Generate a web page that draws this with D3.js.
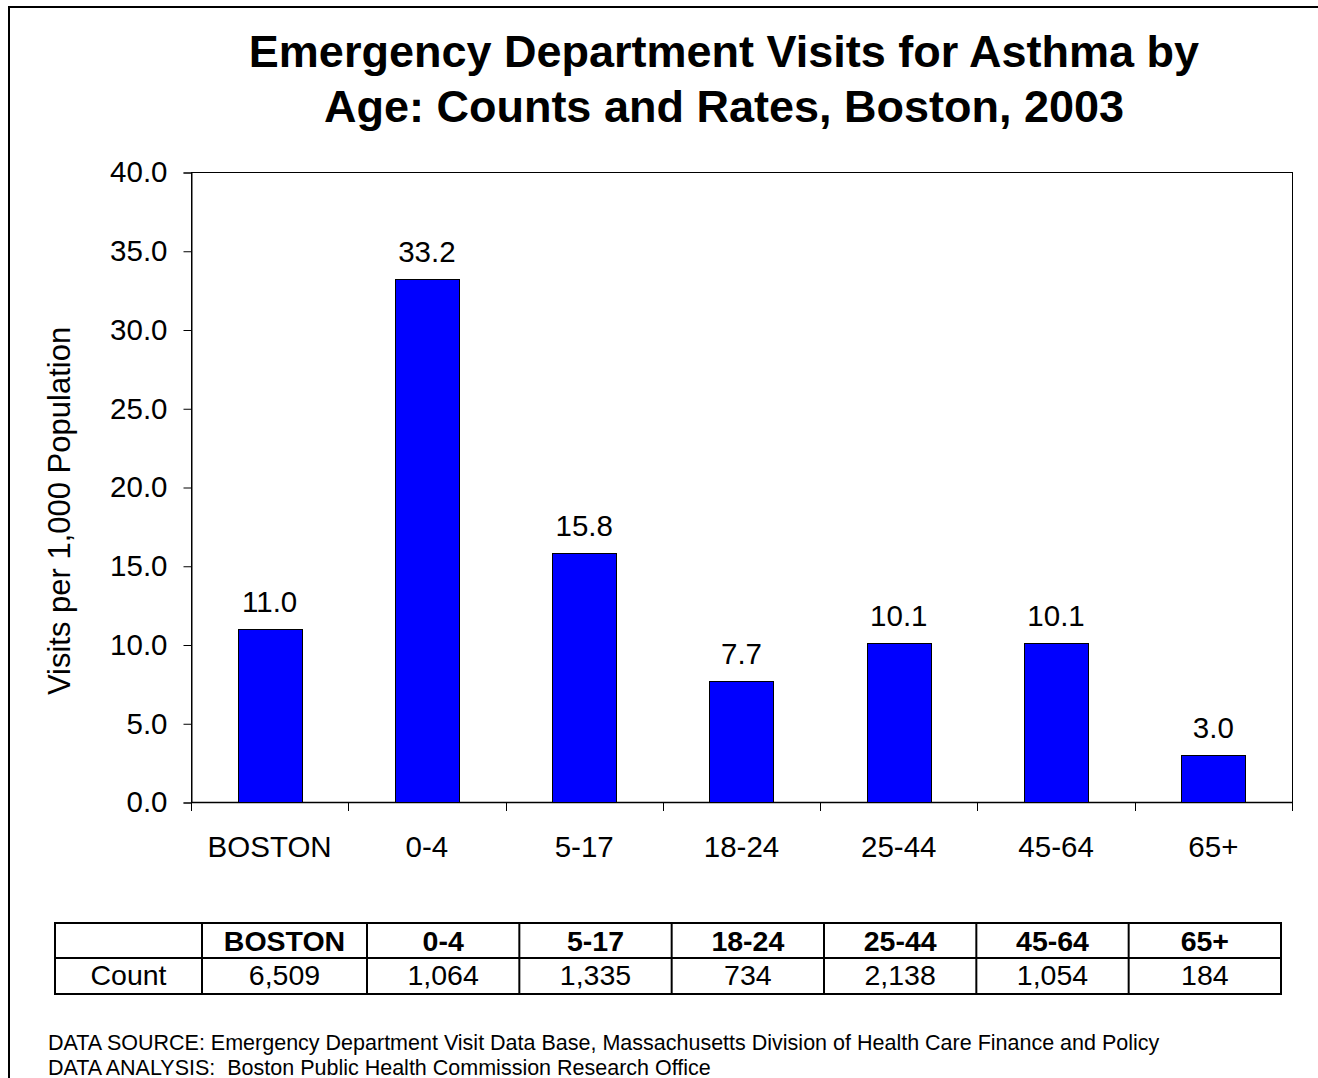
<!DOCTYPE html>
<html>
<head>
<meta charset="utf-8">
<script src="https://cdn.jsdelivr.net/npm/d3@7"></script>
<style>
  html, body { margin: 0; padding: 0; background: #fff; }
  svg { display: block; font-family: Arial, "Liberation Sans", sans-serif; }
</style>
</head>
<body>
<svg id="chart" width="1318" height="1078"></svg>
<script>
// ---- data ----
const categories = ["BOSTON", "0-4", "5-17", "18-24", "25-44", "45-64", "65+"];
const rates = [11.0, 33.2, 15.8, 7.7, 10.1, 10.1, 3.0];
const counts = [6509, 1064, 1335, 734, 2138, 1054, 184];
const yTickValues = [0, 5, 10, 15, 20, 25, 30, 35, 40];
const titleLines = ["Emergency Department Visits for Asthma by", "Age: Counts and Rates, Boston, 2003"];
const yAxisTitle = "Visits per 1,000 Population";
const rowLabel = "Count";
const footerLines = [
  "DATA SOURCE: Emergency Department Visit Data Base, Massachusetts Division of Health Care Finance and Policy",
  "DATA ANALYSIS:  Boston Public Health Commission Research Office"
];

// ---- layout ----
const W = 1318, H = 1078;
const plot = { left: 191, right: 1292, top: 172, bottom: 802 };
const svg = d3.select("#chart");

// outer border (right/bottom edges fall outside the picture)
svg.append("rect")
  .attr("x", 9).attr("y", 7)
  .attr("width", W + 20).attr("height", H + 20)
  .attr("fill", "none").attr("stroke", "#000").attr("stroke-width", 2);

// title
svg.append("g").selectAll("text").data(titleLines).join("text")
  .attr("x", 724)
  .attr("y", (d, i) => 67 + i * 55)
  .attr("text-anchor", "middle")
  .attr("font-size", 45).attr("font-weight", "bold")
  .text(d => d);

// scales
const pad = 0.593;
const x = d3.scaleBand().domain(categories)
  .range([plot.left, plot.right])
  .paddingInner(pad).paddingOuter(pad / 2);
const y = d3.scaleLinear().domain([0, 40]).range([plot.bottom, plot.top]);

// plot frame
svg.append("rect")
  .attr("x", plot.left + 0.5).attr("y", plot.top + 0.5)
  .attr("width", plot.right - plot.left).attr("height", plot.bottom - plot.top)
  .attr("fill", "none").attr("stroke", "#000").attr("stroke-width", 1);

// y axis
const yAxis = d3.axisLeft(y).tickValues(yTickValues).tickFormat(d3.format(".1f"))
  .tickSize(8).tickPadding(16);
const gy = svg.append("g").attr("transform", `translate(${plot.left + 0.5},0.5)`).call(yAxis);
gy.select(".domain").attr("stroke", "#000");
gy.selectAll(".tick line").attr("stroke", "#000");
gy.selectAll(".tick text")
  .attr("font-size", 29.5).attr("font-family", "Arial, 'Liberation Sans', sans-serif")
  .attr("fill", "#000");

// x axis ticks at category boundaries
const step = x.step();
const boundaries = categories.map(c => x(c) + x.bandwidth() / 2 - step / 2).concat([plot.right]);
svg.append("g").selectAll("line").data(boundaries).join("line")
  .attr("x1", d => Math.round(d) + 0.5).attr("x2", d => Math.round(d) + 0.5)
  .attr("y1", plot.bottom).attr("y2", plot.bottom + 9)
  .attr("stroke", "#000").attr("stroke-width", 1);
svg.append("line")
  .attr("x1", plot.left).attr("x2", plot.right + 1)
  .attr("y1", plot.bottom + 0.5).attr("y2", plot.bottom + 0.5)
  .attr("stroke", "#000").attr("stroke-width", 1.5);

svg.append("g").selectAll("text").data(categories).join("text")
  .attr("x", d => x(d) + x.bandwidth() / 2)
  .attr("y", 857)
  .attr("text-anchor", "middle")
  .attr("font-size", 29.5)
  .text(d => d);

// bars
svg.append("g").selectAll("rect").data(rates).join("rect")
  .attr("x", (d, i) => Math.round(x(categories[i])) + 0.5)
  .attr("y", d => Math.round(y(d)) + 0.5)
  .attr("width", Math.round(x.bandwidth()))
  .attr("height", d => Math.round(y(0)) - Math.round(y(d)))
  .attr("fill", "#0000FF").attr("stroke", "#000").attr("stroke-width", 1);

// value labels
svg.append("g").selectAll("text").data(rates).join("text")
  .attr("x", (d, i) => x(categories[i]) + x.bandwidth() / 2)
  .attr("y", d => y(d) - 17)
  .attr("text-anchor", "middle")
  .attr("font-size", 29.5)
  .text(d => d3.format(".1f")(d));

// y-axis title
svg.append("text")
  .attr("transform", "translate(70,511) rotate(-90)")
  .attr("text-anchor", "middle")
  .attr("font-size", 31)
  .text(yAxisTitle);

// ---- count table ----
const table = { left: 55, top: 923, mid: 958, bottom: 994, labelW: 147, firstW: 165, right: 1281 };
const otherW = (table.right - table.left - table.labelW - table.firstW) / (categories.length - 1);
const colEdges = [table.left, table.left + table.labelW];
categories.forEach((c, i) => colEdges.push(colEdges[colEdges.length - 1] + (i === 0 ? table.firstW : otherW)));
const tg = svg.append("g");
tg.append("rect")
  .attr("x", table.left).attr("y", table.top)
  .attr("width", table.right - table.left).attr("height", table.bottom - table.top)
  .attr("fill", "none").attr("stroke", "#000").attr("stroke-width", 2);
tg.append("line")
  .attr("x1", table.left).attr("x2", table.right)
  .attr("y1", table.mid).attr("y2", table.mid)
  .attr("stroke", "#000").attr("stroke-width", 2);
tg.selectAll("line.col").data(colEdges.slice(1, -1)).join("line")
  .attr("class", "col")
  .attr("x1", d => d).attr("x2", d => d)
  .attr("y1", table.top).attr("y2", table.bottom)
  .attr("stroke", "#000").attr("stroke-width", 2);
const colCenter = i => (colEdges[i] + colEdges[i + 1]) / 2;
tg.selectAll("text.head").data(categories).join("text")
  .attr("class", "head")
  .attr("x", (d, i) => colCenter(i + 1))
  .attr("y", 951)
  .attr("text-anchor", "middle")
  .attr("font-size", 28.5).attr("font-weight", "bold")
  .text(d => d);
tg.append("text")
  .attr("x", colCenter(0)).attr("y", 985)
  .attr("text-anchor", "middle")
  .attr("font-size", 28.5)
  .text(rowLabel);
tg.selectAll("text.cnt").data(counts).join("text")
  .attr("class", "cnt")
  .attr("x", (d, i) => colCenter(i + 1))
  .attr("y", 985)
  .attr("text-anchor", "middle")
  .attr("font-size", 28.5)
  .text(d => d3.format(",")(d));

// footer
svg.append("g").selectAll("text").data(footerLines).join("text")
  .attr("x", 48)
  .attr("y", (d, i) => 1049.5 + i * 25)
  .attr("font-size", 21.5)
  .attr("xml:space", "preserve")
  .style("white-space", "pre")
  .text(d => d);
</script>
</body>
</html>
